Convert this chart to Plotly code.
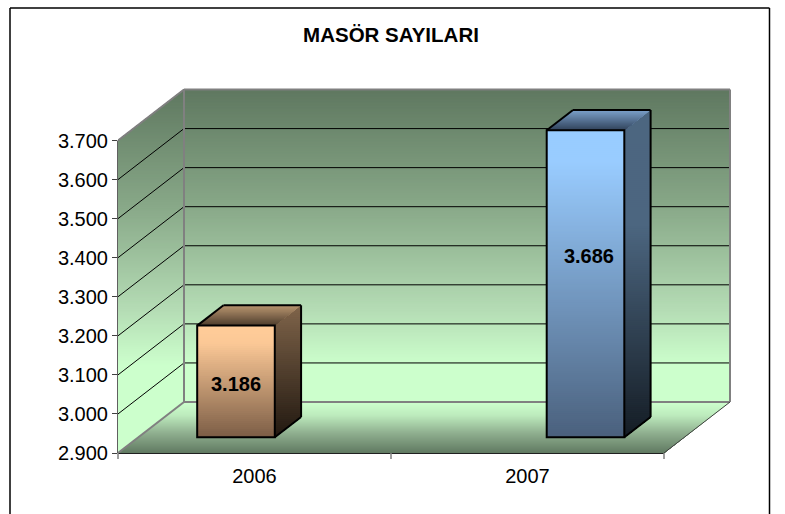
import plotly.graph_objects as go

# ---- data ----
categories = ["2006", "2007"]
values = [3186, 3686]
y_ticks = [2900, 3000, 3100, 3200, 3300, 3400, 3500, 3600, 3700]
title_text = "MASÖR SAYILARI"

# ---- layout constants ----
W, H = 785, 514
L, R_PX, B_PX, T_PX = 118, 733, 453, 87      # plot area in page pixels
PX_PER_CAT = 273.0
PX_PER_UNIT = 0.3906
Y0, Y1 = 2900, 3700
DX = 66 / PX_PER_CAT                         # wall depth, in axis units
DY = 51 / PX_PER_UNIT
X0, X1 = -0.5, 1.5
XMAX = X0 + (R_PX - L) / PX_PER_CAT
YMAX = Y0 + (B_PX - T_PX) / PX_PER_UNIT
BAR_X = [-0.0678, 1.2125]
BAR_W = 77.6 / PX_PER_CAT
BAR_BASE = Y0 + 15.7 / PX_PER_UNIT
BAR_DX = 26.3 / PX_PER_CAT
BAR_DY = 20.3 / PX_PER_UNIT
LABEL_X = [-0.0678, 1.225]
LABEL_OFFSET = [-114.5, -287]                # label height relative to the value

WALL_STOPS = [(0, "#5F7860"), (0.37, "#88A888"), (0.69, "#B3DAB3"), (0.88, "#CCFFCC"), (1, "#CCFFCC")]
FLOOR_STOPS = [(0, "#CCFFCC"), (0.25, "#BDEBBD"), (0.6, "#8FAF8F"), (1, "#5F7860")]
FACE_FRONT = [[(0, "#FFCC99"), (0.15, "#FBC896"), (1, "#7A5C45")], [(0, "#99CCFF"), (0.1, "#99CCFF"), (1, "#4A607C")]]
FACE_SIDE = [[(0, "#7F644A"), (1, "#211810")], [(0, "#4C6680"), (0.35, "#4C6680"), (1, "#141C24")]]
FACE_TOP = [[(0, "#B8956F"), (1, "#4A3A2B")], [(0, "#7A9FC8"), (1, "#2F4058")]]


def hex2rgb(c):
    return tuple(int(c[i:i + 2], 16) for i in (1, 3, 5))


def color_at(stops, t):
    t = max(0, min(1, t))
    for (a, ca), (b, cb) in zip(stops, stops[1:]):
        if t <= b:
            f = (t - a) / (b - a) if b > a else 0
            ra, rb = hex2rgb(ca), hex2rgb(cb)
            return "rgb(%d,%d,%d)" % tuple(round(p + (q - p) * f) for p, q in zip(ra, rb))
    return stops[-1][1]


def clip_below(poly, y):
    out = []
    for (x1, y1), (x2, y2) in zip(poly, poly[1:] + poly[:1]):
        if y1 <= y:
            out.append((x1, y1))
        if (y1 <= y) != (y2 <= y):
            f = (y - y1) / (y2 - y1)
            out.append((x1 + (x2 - x1) * f, y))
    return out


def path_of(poly):
    return "M " + " L ".join(f"{x:.5f},{y:.3f}" for x, y in poly) + " Z"


shapes = []


def gradient(poly, stops, ytop, ybot, step_px=1.5):
    top = max(p[1] for p in poly)
    bot = min(p[1] for p in poly)
    n = max(2, int((top - bot) * PX_PER_UNIT / step_px))
    for k in range(n):
        y = top - (top - bot) * k / n
        clipped = clip_below(poly, y)
        if len(clipped) >= 3:
            shapes.append(dict(type="path", path=path_of(clipped), xref="x", yref="y", layer="below",
                               line=dict(width=0), fillcolor=color_at(stops, (ytop - y) / (ytop - ybot))))


def seg(x0, y0, x1, y1, color, width):
    shapes.append(dict(type="line", x0=x0, y0=y0, x1=x1, y1=y1, xref="x", yref="y", layer="below",
                       line=dict(color=color, width=width)))


def fx(x):
    return (x - X0) / (XMAX - X0)


def fy(y):
    return (y - Y0) / (YMAX - Y0)


def pseg(x0, y0, x1, y1, color, width):
    # x, y in axis units, but not clipped to the plot area
    shapes.append(dict(type="line", x0=fx(x0), y0=fy(y0), x1=fx(x1), y1=fy(y1), xref="paper", yref="paper",
                       layer="below", line=dict(color=color, width=width)))


# walls and floor
BTOP, BBOT = Y1 + DY, Y0 + DY
back = [(X0 + DX, BTOP), (X1 + DX, BTOP), (X1 + DX, BBOT), (X0 + DX, BBOT)]
side = [(X0, Y1), (X0 + DX, BTOP), (X0 + DX, BBOT), (X0, Y0)]
floor = [(X0 + DX, BBOT), (X1 + DX, BBOT), (X1, Y0), (X0, Y0)]
gradient(back, WALL_STOPS, BTOP, BBOT)
gradient(side, WALL_STOPS, BTOP, BBOT)
gradient(floor, FLOOR_STOPS, BBOT, Y0, 1)

# grid
for v in y_ticks[1:]:
    seg(X0 + DX, v + DY, X1 + DX, v + DY, "#000000", 1)
    seg(X0, v, X0 + DX, v + DY, "#000000", 1)

# frame of the walls
GREY = "#808080"
seg(X0 + DX, BBOT, X1 + DX, BBOT, GREY, 2)
seg(X0 + DX, BTOP, X1 + DX, BTOP, GREY, 2)
seg(X0 + DX, BBOT, X0 + DX, BTOP, GREY, 2)
seg(X1 + DX, BBOT, X1 + DX, BTOP, GREY, 2)
seg(X0, Y1, X0 + DX, BTOP, GREY, 2)
seg(X0, Y0, X0 + DX, BBOT, GREY, 2)
seg(X1, Y0, X1 + DX, BBOT, "#404040", 1)
pseg(X0, Y0, X0, Y1, "#606060", 2)
pseg(X0, Y0, X1, Y0, "#202020", 2)

# x tick marks on the category boundaries
tick_drop = 6 / PX_PER_UNIT
for xt in (X0, 0.5, X1):
    pseg(xt, Y0, xt, Y0 - tick_drop, GREY, 1.5)

# bars: gradient faces
for i, v in enumerate(values):
    xl, xr = BAR_X[i] - BAR_W / 2, BAR_X[i] + BAR_W / 2
    top = BAR_BASE + v - Y0
    front = [(xl, top), (xr, top), (xr, BAR_BASE), (xl, BAR_BASE)]
    sidef = [(xr, top), (xr + BAR_DX, top + BAR_DY), (xr + BAR_DX, BAR_BASE + BAR_DY), (xr, BAR_BASE)]
    topf = [(xl, top), (xl + BAR_DX, top + BAR_DY), (xr + BAR_DX, top + BAR_DY), (xr, top)]
    gradient(front, FACE_FRONT[i], top, BAR_BASE, 2)
    gradient(sidef, FACE_SIDE[i], top + BAR_DY, BAR_BASE, 2)
    gradient(topf, FACE_TOP[i], top + BAR_DY, top, 1)
    for a, b in ((topf[0], topf[1]), (topf[1], topf[2]), (sidef[1], sidef[2]), (sidef[2], sidef[3])):
        seg(a[0], a[1], b[0], b[1], "#000000", 2)

# page frame (open at the bottom, like the crop of the reference)
page = dict(xref="paper", yref="paper", layer="above", line=dict(color="#000000", width=1.5))
px = lambda p: (p - L) / (R_PX - L)
py = lambda p: (B_PX - p) / (B_PX - T_PX)
shapes.append(dict(type="line", x0=px(10), x1=px(10), y0=py(8), y1=py(520), **page))
shapes.append(dict(type="line", x0=px(769.5), x1=px(769.5), y0=py(8), y1=py(520), **page))
shapes.append(dict(type="line", x0=px(10), x1=px(769.5), y0=py(8), y1=py(8), **page))

fig = go.Figure()
fig.add_trace(go.Bar(
    x=BAR_X,
    y=[v - Y0 for v in values],
    base=BAR_BASE,
    width=BAR_W,
    customdata=values,
    hovertemplate="%{customdata:,d}<extra></extra>",
    marker=dict(color="rgba(0,0,0,0)", line=dict(color="#000000", width=2)),
    showlegend=False,
))
fig.add_trace(go.Scatter(
    x=LABEL_X,
    y=[v + o for v, o in zip(values, LABEL_OFFSET)],
    mode="text",
    text=[f"{v:,d}".replace(",", ".") for v in values],
    textposition="middle center",
    textfont=dict(family="Liberation Sans", size=20, color="#000000", weight="bold"),
    hoverinfo="skip",
    showlegend=False,
))

fig.update_layout(
    width=W, height=H,
    margin=dict(l=L, r=W - R_PX, t=T_PX, b=H - B_PX, pad=0, autoexpand=False),
    paper_bgcolor="#FFFFFF", plot_bgcolor="rgba(0,0,0,0)",
    separators=",.",
    barmode="overlay",
    showlegend=False,
    shapes=shapes,
    font=dict(family="Liberation Sans", size=20, color="#000000"),
    title=dict(text=f"<b>{title_text}</b>", font=dict(family="Liberation Sans", size=20.5, color="#000000"),
               x=391 / W, xref="container", xanchor="center", y=1 - 35 / H, yref="container", yanchor="middle"),
    xaxis=dict(range=[X0, XMAX], tickmode="array", tickvals=[0, 1], ticktext=categories, ticks="",
               showgrid=False, zeroline=False, showline=False, ticklabelstandoff=9,
               tickfont=dict(size=20)),
    yaxis=dict(range=[Y0, YMAX], tickmode="array", tickvals=y_ticks, tickformat=",d", ticks="outside",
               ticklen=5, tickwidth=1, tickcolor="#404040", showgrid=False, zeroline=False, showline=False,
               tickfont=dict(size=20)),
)
fig.write_html("out.html", post_script="document.body.style.margin='0';document.body.style.overflow='hidden';",
               config={"displayModeBar": False})
